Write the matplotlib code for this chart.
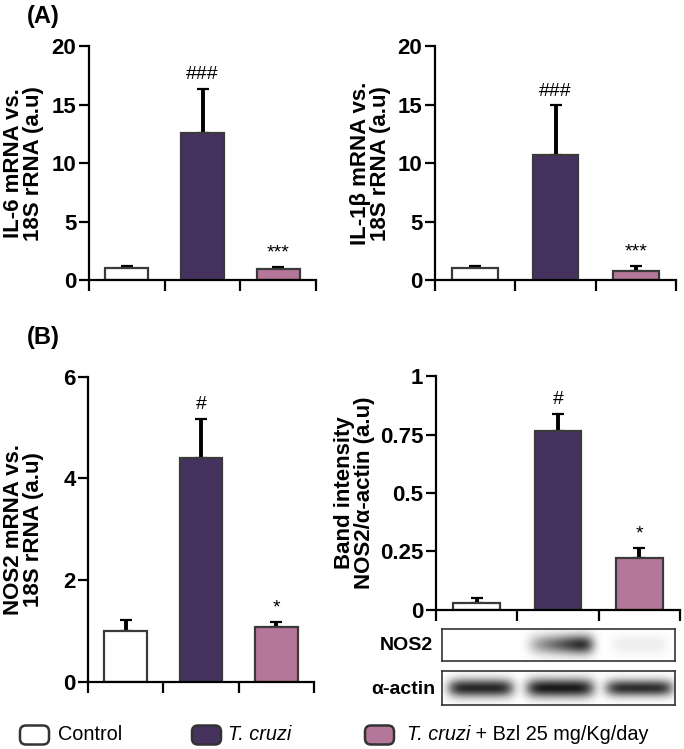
import numpy as np
import matplotlib
matplotlib.use("Agg")
import matplotlib.pyplot as plt
from matplotlib.patches import FancyBboxPatch
from matplotlib.transforms import blended_transform_factory

plt.rcParams['font.family'] = ['Liberation Sans', 'DejaVu Sans']

# ---------------- data ----------------
groups = ["Control", "T. cruzi", "T. cruzi + Bzl 25 mg/Kg/day"]
il6_mean = [1.05, 12.55, 0.97]
il6_err = [0.18, 3.8, 0.18]
il6_sig = ["", "###", "***"]

il1b_mean = [1.05, 10.7, 0.8]
il1b_err = [0.15, 4.25, 0.37]
il1b_sig = ["", "###", "***"]

nos2_mrna_mean = [1.0, 4.40, 1.08]
nos2_mrna_err = [0.21, 0.77, 0.09]
nos2_mrna_sig = ["", "#", "*"]

nos2_band_mean = [0.027, 0.766, 0.223]
nos2_band_err = [0.022, 0.074, 0.04]
nos2_band_sig = ["", "#", "*"]

# blot lane intensities (0 = no band, 1 = black)
blot_nos2 = [0.0, 0.62, 0.07]
blot_actin = [0.85, 0.90, 0.82]

colors = ["#ffffff", "#46325f", "#b47799"]
edge = "#3a3a3a"

W, H = 684, 749
fig = plt.figure(figsize=(W / 100, H / 100), dpi=100)


def frac(x0, y_top, x1, y_bot):
    return [x0 / W, 1 - y_bot / H, (x1 - x0) / W, (y_bot - y_top) / H]


def bar_panel(rect, means, errs, sigs, ylim, yticks, yticklabels, ylabel, sig_fs, label_right_px):
    ax = fig.add_axes(rect)
    x = np.arange(len(means))
    ax.bar(x, means, width=0.57, color=colors, edgecolor=edge, linewidth=1.6, zorder=2)
    for xi, m, e in zip(x, means, errs):
        ax.errorbar([xi], [m], yerr=[[0], [e]], fmt='none', ecolor='black',
                    elinewidth=2.8, capsize=4.5, capthick=1.6, zorder=1)
    for xi, m, e, s in zip(x, means, errs, sigs):
        if s:
            ax.annotate(s, (xi, m + e), xytext=(0, 4), textcoords='offset points',
                        ha='center', va='bottom', fontsize=sig_fs)
    ax.set_xlim(-0.5, 2.5)
    ax.set_ylim(*ylim)
    ax.set_yticks(yticks)
    ax.set_yticklabels(yticklabels, fontsize=16, fontweight='bold')
    ax.set_xticks([-0.5, 0.5, 1.5, 2.5])
    ax.set_xticklabels([])
    ax.tick_params(axis='both', direction='out', width=1.6, length=7, pad=2)
    ax.tick_params(axis='x', length=8)
    for s in ['top', 'right']:
        ax.spines[s].set_visible(False)
    for s in ['left', 'bottom']:
        ax.spines[s].set_linewidth(1.6)
    ax.set_ylabel(ylabel, fontsize=16, fontweight='bold', linespacing=0.95)
    tr = blended_transform_factory(fig.transFigure, ax.transAxes)
    ax.yaxis.set_label_coords(label_right_px / W, 0.5, transform=tr)
    return ax


axA1 = bar_panel(frac(89, 46.3, 316, 280), il6_mean, il6_err, il6_sig, (0, 20),
                 [0, 5, 10, 15, 20], ["0", "5", "10", "15", "20"],
                 "IL-6 mRNA vs.\n18S rRNA (a.u)", 14, 44)
axA2 = bar_panel(frac(435, 46.3, 676, 280), il1b_mean, il1b_err, il1b_sig, (0, 20),
                 [0, 5, 10, 15, 20], ["0", "5", "10", "15", "20"],
                 "IL-1β mRNA vs.\n18S rRNA (a.u)", 14, 391)
axB1 = bar_panel(frac(88, 376.7, 314, 681.7), nos2_mrna_mean, nos2_mrna_err, nos2_mrna_sig,
                 (0, 6), [0, 2, 4, 6], ["0", "2", "4", "6"],
                 "NOS2 mRNA vs.\n18S rRNA (a.u)", 14, 44)
axB2 = bar_panel(frac(436, 376.3, 680, 609.7), nos2_band_mean, nos2_band_err, nos2_band_sig,
                 (0, 1), [0, 0.25, 0.5, 0.75, 1], ["0", "0.25", "0.5", "0.75", "1"],
                 "Band intensity\nNOS2/α-actin (a.u)", 14, 375)

fig.text(27 / W, 1 - 17 / H, "(A)", fontsize=17, fontweight='bold', va='center', ha='left')
fig.text(27 / W, 1 - 337 / H, "(B)", fontsize=17, fontweight='bold', va='center', ha='left')

# ---------------- blots ----------------
lane_centers = [0.165, 0.505, 0.845]


def blot(rect, intens, widths, heights, skew):
    ax = fig.add_axes(rect)
    nx, ny = 240, 36
    xx, yy = np.meshgrid(np.linspace(0, 1, nx), np.linspace(0, 1, ny))
    img = np.zeros_like(xx)
    for c, a, w, h, k in zip(lane_centers, intens, widths, heights, skew):
        if a <= 0:
            continue
        prof_x = np.exp(-((xx - c) / w) ** 6)
        prof_y = np.exp(-((yy - 0.5) / h) ** 2)
        ramp = 1 + k * (xx - c) / w
        img += a * prof_x * prof_y * np.clip(ramp, 0.3, 1.8)
    img = np.clip(img, 0, 1)
    ax.imshow(img, cmap='gray_r', vmin=0, vmax=1, aspect='auto',
              extent=(0, 1, 0, 1), interpolation='bicubic')
    ax.set_xticks([])
    ax.set_yticks([])
    for s in ax.spines.values():
        s.set_linewidth(1.2)
        s.set_color('#333333')
    return ax


bN = blot(frac(441.7, 629, 675, 661), blot_nos2, [0.14, 0.14, 0.12], [0.3, 0.3, 0.3],
          [0, 0.6, 0])
bA = blot(frac(441.7, 671, 675, 705), blot_actin, [0.14, 0.145, 0.145], [0.27, 0.28, 0.25],
          [0, 0, 0])
fig.text(433 / W, 1 - 645 / H, "NOS2", fontsize=14, fontweight='bold', ha='right', va='center')
fig.text(435 / W, 1 - 689 / H, "α-actin", fontsize=14, fontweight='bold', ha='right', va='center')

# ---------------- legend ----------------
lax = fig.add_axes([0, 0, 1, 1], facecolor='none')
lax.set_xlim(0, W)
lax.set_ylim(H, 0)
lax.axis('off')
box_x = [20, 192, 365]
for bx, col in zip(box_x, colors):
    lax.add_patch(FancyBboxPatch((bx, 725.5), 29, 19, boxstyle="round,pad=0,rounding_size=6",
                                 facecolor=col, edgecolor='#333333', linewidth=1.8))
lax.text(58, 735, "Control", fontsize=14.3, va='center', ha='left')
lax.text(228, 735, "T. cruzi", fontsize=14.3, va='center', ha='left', style='italic')
t3 = lax.text(407, 735, "T. cruzi", fontsize=14.3, va='center', ha='left', style='italic')
lax.annotate(" + Bzl 25 mg/Kg/day", xy=(1, 0.5), xycoords=t3, va='center', ha='left',
             fontsize=14.3)

fig.savefig("out.png", dpi=100)
